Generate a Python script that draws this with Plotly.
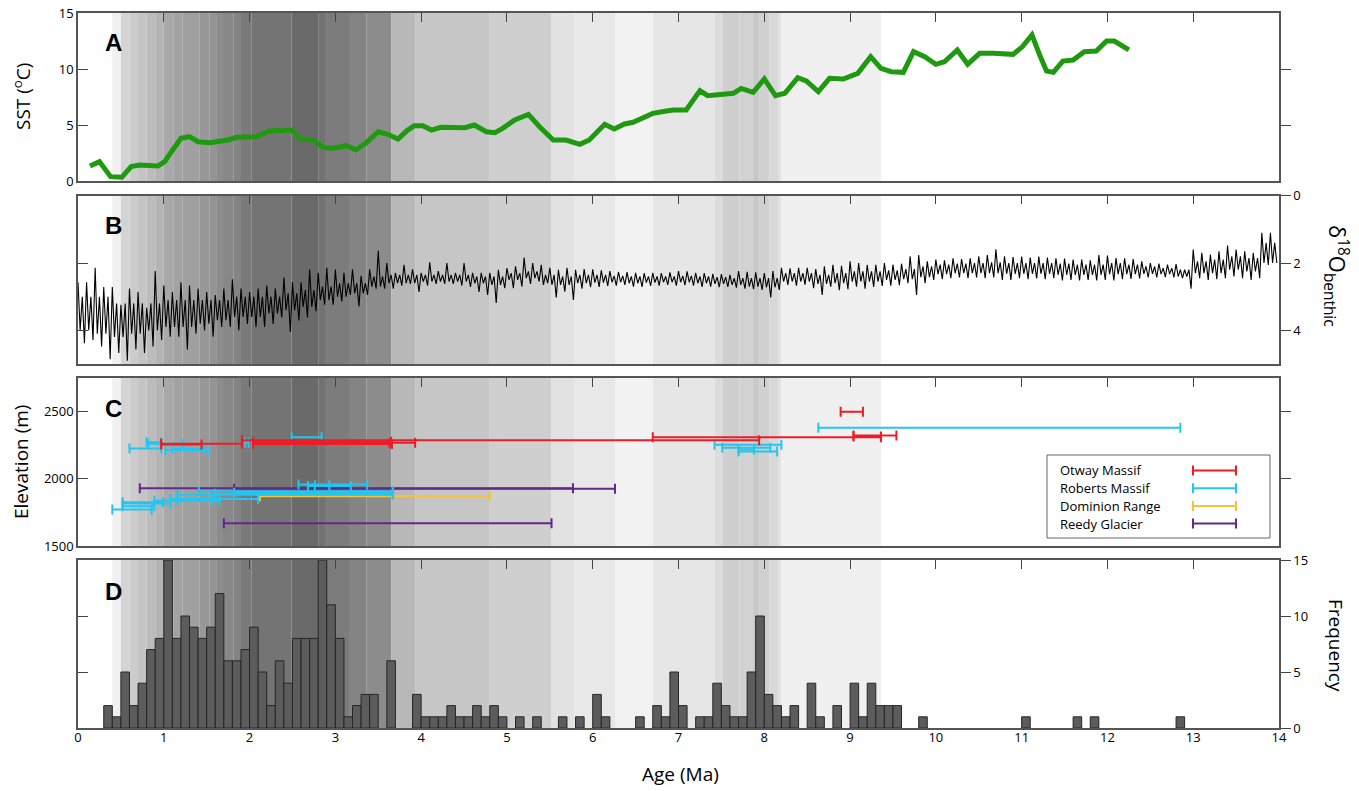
import plotly.graph_objects as go
import numpy as np

# ---------------- data ----------------
sst_age = [0.14,0.25,0.38,0.51,0.62,0.72,0.93,1.01,1.09,1.20,1.30,1.40,1.53,1.65,1.75,1.85,1.96,2.08,2.23,2.35,
           2.49,2.60,2.74,2.86,2.97,3.13,3.24,3.36,3.50,3.61,3.73,3.83,3.92,4.02,4.12,4.23,4.37,4.51,4.62,4.76,
           4.86,4.95,5.09,5.25,5.38,5.54,5.69,5.85,5.96,6.14,6.25,6.37,6.47,6.70,6.86,6.94,7.09,7.25,7.34,7.48,
           7.64,7.73,7.87,8.00,8.13,8.24,8.39,8.49,8.63,8.76,8.92,9.09,9.24,9.36,9.48,9.62,9.74,9.87,10.00,10.10,
           10.25,10.37,10.51,10.67,10.90,11.01,11.12,11.21,11.29,11.37,11.48,11.60,11.73,11.87,11.99,12.08,12.25]
sst_val = [1.34,1.73,0.39,0.33,1.28,1.43,1.34,1.73,2.62,3.81,3.96,3.51,3.42,3.51,3.66,3.90,3.90,3.96,4.46,4.55,
           4.55,3.72,3.66,2.98,2.92,3.15,2.77,3.42,4.40,4.17,3.75,4.46,4.94,4.94,4.55,4.79,4.76,4.76,5.00,4.40,
           4.32,4.70,5.45,5.95,4.85,3.66,3.66,3.27,3.66,5.06,4.64,5.09,5.24,6.04,6.25,6.34,6.34,8.07,7.62,7.77,
           7.83,8.27,7.92,9.11,7.62,7.83,9.23,8.93,7.98,9.17,9.11,9.61,11.10,10.06,9.76,9.70,11.55,11.10,10.42,10.65,
           11.70,10.42,11.40,11.40,11.31,12.00,13.04,11.25,9.82,9.70,10.71,10.80,11.55,11.61,12.50,12.50,11.70]

# benthic d18O: per 0.1 Ma bin, extreme excursions (up = lowest value, dn = highest value)
d18o_bin_start = [round(0.1 * i, 1) for i in range(140)]
d18o_up = [2.57,2.57,2.14,2.71,2.71,3.24,2.76,2.86,3.33,2.24,
           2.67,2.86,2.57,2.67,2.76,2.86,2.95,2.76,2.48,2.76,
           2.86,2.76,2.67,2.76,2.43,2.57,2.57,2.19,2.29,2.14,
           2.19,2.29,2.19,2.38,2.19,1.64,2.00,2.29,2.05,2.19,
           2.29,1.98,2.24,2.00,2.29,2.00,2.29,2.29,2.29,2.20,
           2.15,2.10,1.84,2.00,2.05,2.14,2.20,2.14,2.20,2.18,
           2.19,2.22,2.24,2.26,2.27,2.29,2.30,2.29,2.30,2.28,
           2.24,2.25,2.29,2.30,2.32,2.33,2.35,2.24,2.26,2.28,
           2.30,2.24,2.14,2.16,2.14,2.14,2.18,2.10,2.05,2.08,
           1.95,2.00,2.05,2.05,2.00,2.05,2.02,1.80,1.76,1.95,
           1.90,1.92,1.86,1.88,1.86,1.80,1.76,1.59,1.80,1.82,
           1.81,1.84,1.81,1.84,1.86,1.87,1.90,1.90,1.92,1.76,
           1.78,1.85,1.86,1.88,1.95,2.00,2.02,2.05,2.03,2.20,
           1.60,1.70,1.75,1.65,1.48,1.60,1.65,1.70,1.10,1.10]
d18o_dn = [4.38,4.29,4.48,4.86,4.67,4.90,4.57,4.67,4.48,4.29,
           4.19,4.19,4.57,4.10,4.00,4.19,3.90,3.90,4.00,3.81,
           3.90,3.90,3.81,3.62,4.05,3.71,3.62,3.43,3.24,3.24,
           3.14,2.95,3.29,2.95,2.76,2.76,2.76,2.67,2.62,2.86,
           2.67,2.62,2.62,2.62,2.67,2.71,2.86,2.95,3.19,2.75,
           2.75,2.70,2.62,2.55,2.60,3.02,2.85,3.10,2.76,2.72,
           2.71,2.68,2.67,2.65,2.70,2.71,2.68,2.67,2.65,2.67,
           2.66,2.67,2.71,2.70,2.72,2.71,2.73,2.76,2.78,2.80,
           3.02,2.80,2.65,2.67,2.64,2.75,2.95,2.70,2.81,2.78,
           2.70,2.76,2.71,2.68,2.67,2.66,2.60,2.95,2.60,2.50,
           2.48,2.45,2.43,2.45,2.43,2.45,2.43,2.50,2.50,2.45,
           2.48,2.46,2.48,2.45,2.52,2.50,2.52,2.50,2.52,2.50,
           2.52,2.48,2.47,2.46,2.43,2.43,2.42,2.43,2.45,2.76,
           2.45,2.50,2.48,2.45,2.40,2.45,2.50,2.45,2.06,2.00]
# dense core of the record, per 0.2 Ma bin
d18o_core_up = [3.0,3.0,3.2,3.2,3.2,3.1,3.1,3.1,3.1,3.0,
                3.0,3.0,2.9,2.8,2.7,2.6,2.6,2.4,2.35,2.35,
                2.35,2.35,2.35,2.4,2.4,2.3,2.25,2.35,2.4,2.35,
                2.35,2.38,2.4,2.4,2.4,2.38,2.4,2.42,2.45,2.45,
                2.45,2.3,2.3,2.35,2.3,2.25,2.25,2.22,2.18,2.1,
                2.05,2.02,2.0,1.98,2.0,2.0,2.0,2.02,2.05,2.05,
                2.0,2.05,2.1,2.15,2.2,1.95,1.9,1.8,1.85,1.4]
d18o_core_dn = [4.0,4.1,4.2,4.1,4.0,3.9,3.9,3.8,3.7,3.6,
                3.6,3.5,3.4,3.3,3.1,3.0,2.9,2.7,2.6,2.6,
                2.55,2.55,2.55,2.6,2.65,2.5,2.45,2.65,2.65,2.6,
                2.58,2.57,2.6,2.58,2.57,2.57,2.6,2.62,2.65,2.7,
                2.72,2.55,2.55,2.62,2.6,2.55,2.55,2.5,2.48,2.42,
                2.33,2.3,2.3,2.3,2.32,2.32,2.32,2.35,2.35,2.35,
                2.33,2.33,2.32,2.33,2.4,2.3,2.3,2.2,2.25,2.0]

# exposure ages (Ma) and elevations (m)
otway_lo   = [0.97,0.97,1.91,2.04,2.04,2.04,2.04,6.70,9.04,9.04,8.89]
otway_hi   = [1.44,1.91,7.94,3.65,3.63,3.93,3.66,9.36,9.54,9.36,9.15]
otway_elev = [2253,2258,2283,2272,2262,2266,2256,2305,2318,2312,2495]

roberts_lo   = [0.60,0.80,0.82,1.02,1.10,1.95,2.49,7.42,7.51,7.70,7.70,8.63,
                2.57,2.68,2.76,1.41,1.16,1.82,1.60,0.40,0.52,0.52,0.52,0.89,1.08,1.16]
roberts_hi   = [0.97,0.97,1.22,1.52,1.48,1.99,2.84,8.20,8.07,8.15,7.88,12.85,
                3.37,3.18,2.93,3.67,3.67,3.67,3.67,0.86,0.89,1.08,0.99,1.65,2.10,1.57]
roberts_elev = [2222,2268,2258,2212,2220,2265,2305,2250,2228,2200,2215,2377,
                1955,1945,1950,1905,1880,1895,1888,1770,1795,1815,1825,1835,1848,1840]

dominion_lo, dominion_hi, dominion_elev = [2.12], [4.80], [1869]

reedy_lo   = [0.72,1.82,1.70]
reedy_hi   = [5.77,6.26,5.52]
reedy_elev = [1928,1925,1668]

# histogram of exposure ages (0.1 Ma bins)
hist_bin = [0.3,0.4,0.5,0.6,0.7,0.8,0.9,1.0,1.1,1.2,1.3,1.4,1.5,1.6,1.7,1.8,1.9,2.0,2.1,2.2,
            2.3,2.4,2.5,2.6,2.7,2.8,2.9,3.0,3.1,3.2,3.3,3.4,3.6,3.9,4.0,4.1,4.2,4.3,4.4,4.5,
            4.6,4.7,4.8,4.9,5.1,5.3,5.6,5.8,6.0,6.1,6.5,6.7,6.8,6.9,7.0,7.2,7.3,7.4,7.5,7.6,
            7.7,7.8,7.9,8.0,8.1,8.2,8.3,8.5,8.6,8.8,9.0,9.1,9.2,9.3,9.4,9.5,9.8,11.0,11.6,11.8,12.8]
hist_count = [2,1,5,2,4,7,8,15,8,10,9,8,9,12,6,6,7,9,5,2,
              6,4,8,8,8,15,11,8,1,2,3,3,6,3,1,1,1,2,1,1,
              2,1,2,1,1,1,1,1,3,1,1,2,1,5,2,1,1,4,2,1,
              1,5,10,3,2,1,2,4,1,2,4,1,4,2,2,2,1,1,1,1,1]

# background shading: age intervals and grey level
band_start = [0.40,0.50,0.60,0.70,0.80,0.90,1.00,1.11,1.22,1.42,1.53,1.61,1.69,1.81,1.90,2.02,2.49,2.80,
              2.89,3.17,3.36,3.65,3.93,4.80,5.52,5.79,6.26,6.70,7.42,7.51,7.71,7.87,7.94,8.06,8.16,8.20]
band_end = band_start[1:] + [9.36]
band_level = [240,212,204,196,188,180,168,162,160,152,148,140,136,132,122,116,106,114,
              124,132,140,184,198,207,226,232,242,230,220,207,210,200,208,216,226,240]

legend_names = ["Otway Massif", "Roberts Massif", "Dominion Range", "Reedy Glacier"]
x_ticks = list(range(15))

# ---------------- layout helpers ----------------
W, H = 1359, 791
L, R, T, B = 78, 80, 13, 63
PW, PH = W - L - R, H - T - B
def px(x): return (x - L) / PW           # pixel -> paper x
def py(y): return (H - B - y) / PH       # pixel -> paper y

domA = [py(181), py(13)]
domB = [py(364), py(195.7)]
domC = [py(546), py(378)]
domD = [0.0, py(560)]

RED, CYAN, YEL, PUR = "#ee1c25", "#22c6f0", "#f6c23a", "#62288c"
LINE = "#555555"
FONT = "Open Sans"

fig = go.Figure()

# Panel A
fig.add_trace(go.Scatter(x=sst_age, y=sst_val, mode="lines",
                         line=dict(color="#1f9a10", width=5), xaxis="x", yaxis="y",
                         showlegend=False, hoverinfo="skip"))

# Panel B
d_x, d_y = [], []
for i, (a, u, d) in enumerate(zip(d18o_bin_start, d18o_up, d18o_dn)):
    cu, cd = d18o_core_up[i // 2], d18o_core_dn[i // 2]
    d_x += [a, a + 0.025, a + 0.05, a + 0.075]
    d_y += [u, cd, cu, d]
fig.add_trace(go.Scatter(x=d_x, y=d_y, mode="lines", line=dict(color="black", width=1.1),
                         xaxis="x2", yaxis="y2", showlegend=False, hoverinfo="skip"))

# Panel C
def add_bars(lo, hi, elev, color, name):
    c = [(a + b) / 2 for a, b in zip(lo, hi)]
    fig.add_trace(go.Scatter(
        x=c, y=elev, mode="markers", name=name,
        marker=dict(size=1, color=color),
        error_x=dict(type="data", symmetric=False,
                     array=[b - m for b, m in zip(hi, c)],
                     arrayminus=[m - a for a, m in zip(lo, c)],
                     color=color, thickness=2, width=5),
        xaxis="x3", yaxis="y3", showlegend=False, hoverinfo="skip"))

add_bars(reedy_lo, reedy_hi, reedy_elev, PUR, legend_names[3])
add_bars(dominion_lo, dominion_hi, dominion_elev, YEL, legend_names[2])
add_bars(roberts_lo, roberts_hi, roberts_elev, CYAN, legend_names[1])
add_bars(otway_lo, otway_hi, otway_elev, RED, legend_names[0])

# Panel D
fig.add_trace(go.Bar(x=[b + 0.05 for b in hist_bin], y=hist_count, width=0.1,
                     marker=dict(color="#5c5c5c", line=dict(color="#262626", width=1)),
                     xaxis="x4", yaxis="y4", showlegend=False, hoverinfo="skip"))

# invisible traces for overlay axes
for xa, ya in [("x", "y5"), ("x2", "y6"), ("x3", "y7"), ("x4", "y8"), ("x5", "y4")]:
    fig.add_trace(go.Scatter(x=[None], y=[None], xaxis=xa, yaxis=ya,
                             showlegend=False, hoverinfo="skip"))

tickfont = dict(family=FONT, size=13, color="black")
def xax(anchor):
    return dict(domain=[0, 1], range=[0, 14], anchor=anchor, side="top",
                tickvals=x_ticks, ticks="inside", ticklen=9, tickcolor="#444", tickwidth=1.3,
                showticklabels=False, showline=True, linecolor=LINE, linewidth=1.5,
                mirror=True, showgrid=False, zeroline=False, automargin=False)

def yax(dom, rng, vals, side, ticks, labels, anchor, overlay=None):
    d = dict(range=rng, tickvals=vals, side=side, ticks=ticks, ticklen=10,
             tickcolor="#444", tickwidth=1.3, showticklabels=labels, tickfont=tickfont,
             showline=True, linecolor=LINE, linewidth=1.5, showgrid=False,
             zeroline=False, anchor=anchor, automargin=False, ticklabeloverflow="allow")
    if overlay:
        d["overlaying"] = overlay
    else:
        d["domain"] = dom
    return d

layout = dict(
    width=W, height=H, margin=dict(l=L, r=R, t=T, b=B, autoexpand=False),
    paper_bgcolor="white", plot_bgcolor="white", showlegend=False,
    xaxis=xax("y"), xaxis2=xax("y2"), xaxis3=xax("y3"), xaxis4=xax("y4"),
    xaxis5=dict(range=[0, 14], overlaying="x4", anchor="y4", side="bottom",
                tickvals=x_ticks, ticks="", showline=False, showgrid=False,
                zeroline=False, tickfont=tickfont, automargin=False,
                ticklabeloverflow="allow"),
    yaxis=yax(domA, [0, 15], [0, 5, 10, 15], "left", "inside", True, "x"),
    yaxis5=yax(None, [0, 15], [5, 10], "right", "outside", False, "x", overlay="y"),
    yaxis2=yax(domB, [5, 0], [0, 2, 4], "right", "outside", True, "x2"),
    yaxis6=yax(None, [5, 0], [2, 4], "left", "inside", False, "x2", overlay="y2"),
    yaxis3=yax(domC, [1500, 2745], [1500, 2000, 2500], "left", "inside", True, "x3"),
    yaxis7=yax(None, [1500, 2745], [2000, 2500], "right", "outside", False, "x3", overlay="y3"),
    yaxis4=yax(domD, [0, 15], [0, 5, 10, 15], "right", "outside", True, "x4"),
    yaxis8=yax(None, [0, 15], [5, 10], "left", "inside", False, "x4", overlay="y4"),
)
fig.update_layout(**layout)

shapes = []
for xr, yr in [("x", "y domain"), ("x2", "y2 domain"), ("x3", "y3 domain"), ("x4", "y4 domain")]:
    for s, e, g in zip(band_start, band_end, band_level):
        shapes.append(dict(type="rect", xref=xr, yref=yr, x0=s, x1=e, y0=0, y1=1,
                           fillcolor=f"rgb({g},{g},{g})", line=dict(width=0), layer="below"))

# custom legend box
shapes.append(dict(type="rect", xref="paper", yref="paper", x0=px(1047), x1=px(1270),
                   y0=py(538), y1=py(455), fillcolor="white",
                   line=dict(color="#666666", width=1), layer="above"))
annotations = []
for i, (name, col) in enumerate(zip(legend_names, [RED, CYAN, YEL, PUR])):
    yy = 470.5 + i * 17.7
    annotations.append(dict(xref="paper", yref="paper", x=px(1058), y=py(yy), text=name,
                            showarrow=False, xanchor="left", yanchor="middle",
                            font=dict(family=FONT, size=13, color="black")))
    shapes.append(dict(type="line", xref="paper", yref="paper", x0=px(1193), x1=px(1236),
                       y0=py(yy), y1=py(yy), line=dict(color=col, width=2), layer="above"))
    for xe in (1193, 1236):
        shapes.append(dict(type="line", xref="paper", yref="paper", x0=px(xe), x1=px(xe),
                           y0=py(yy - 5), y1=py(yy + 5), line=dict(color=col, width=2),
                           layer="above"))

# panel letters
for letter, yy in zip("ABCD", [42, 225, 408, 591]):
    annotations.append(dict(xref="paper", yref="paper", x=px(113), y=py(yy), text=f"<b>{letter}</b>",
                            showarrow=False, xanchor="center", yanchor="middle",
                            font=dict(family="Liberation Sans", size=24, color="black")))

# axis titles
def title(x, y, text, angle, size):
    return dict(xref="paper", yref="paper", x=px(x), y=py(y), text=text, textangle=angle,
                showarrow=False, xanchor="center", yanchor="middle",
                font=dict(family=FONT, size=size, color="black"))

annotations += [
    title(22, 97, "SST (<sup>o</sup>C)", -90, 19),
    title(21, 462, "Elevation (m)", -90, 19),
    title(1337, 276, "δ<sup>18</sup>O<sub>benthic</sub>", 90, 22),
    title(1336, 645, "Frequency", 90, 19),
    title(680, 774, "Age (Ma)", 0, 19),
]

fig.update_layout(shapes=shapes, annotations=annotations)
# remove the default 8px page margin so the figure fills the 1359x791 window exactly
fig.write_html("out.html", config={"displayModeBar": False},
               post_script="document.body.style.margin='0';document.body.style.overflow='hidden';")
